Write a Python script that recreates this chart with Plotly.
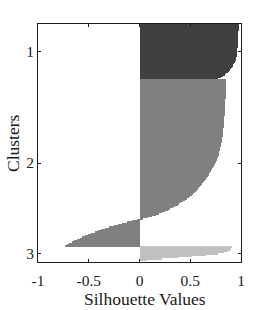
import plotly.graph_objects as go

cluster_labels = ["1", "2", "3"]
cluster_colors = ["#404040", "#808080", "#c0c0c0"]

sil_cluster1 = [0.978, 0.977, 0.977, 0.976, 0.976, 0.975, 0.975, 0.974, 0.974, 0.973,
                0.972, 0.972, 0.971, 0.970, 0.969, 0.968, 0.968, 0.967, 0.966, 0.965,
                0.964, 0.963, 0.962, 0.960, 0.958, 0.956, 0.954, 0.951, 0.948, 0.944,
                0.938, 0.931, 0.925, 0.918, 0.910, 0.901, 0.892, 0.882, 0.870, 0.857,
                0.842, 0.825, 0.805, 0.775]

sil_cluster2 = [0.856, 0.855, 0.855, 0.854, 0.854, 0.853, 0.853, 0.852, 0.852, 0.851,
                0.851, 0.850, 0.850, 0.849, 0.849, 0.848, 0.847, 0.847, 0.846, 0.845,
                0.845, 0.844, 0.843, 0.842, 0.842, 0.841, 0.840, 0.839, 0.838, 0.837,
                0.836, 0.835, 0.834, 0.833, 0.832, 0.831, 0.830, 0.829, 0.828, 0.827,
                0.826, 0.824, 0.823, 0.821, 0.819, 0.818, 0.816, 0.814, 0.812, 0.810,
                0.808, 0.806, 0.803, 0.800, 0.797, 0.794, 0.791, 0.788, 0.785, 0.782,
                0.779, 0.775, 0.770, 0.766, 0.761, 0.756, 0.750, 0.744, 0.738, 0.731,
                0.723, 0.716, 0.709, 0.702, 0.695, 0.688, 0.680, 0.672, 0.663, 0.653,
                0.643, 0.634, 0.625, 0.616, 0.607, 0.598, 0.588, 0.577, 0.566, 0.554,
                0.542, 0.530, 0.516, 0.501, 0.485, 0.468, 0.450, 0.431, 0.411, 0.390,
                0.375, 0.352, 0.328, 0.303, 0.277, 0.250, 0.222, 0.193, 0.162, 0.128,
                0.085, 0.035, -0.020, -0.070,
                -0.125, -0.170, -0.215, -0.255, -0.300, -0.340, -0.375, -0.410, -0.440, -0.475,
                -0.505, -0.535, -0.565, -0.590, -0.620, -0.645, -0.665, -0.690, -0.710, -0.730]

sil_cluster3 = [0.915, 0.905, 0.890, 0.870, 0.830, 0.770, 0.660, 0.520, 0.380, 0.220, 0.070]

x_tick_vals = [-1, -0.5, 0, 0.5, 1]
x_tick_text = ["-1", "-0.5", "0", "0.5", "1"]

clusters = [sil_cluster1, sil_cluster2, sil_cluster3]

fig = go.Figure()
start = 1
centers = []
for vals, color in zip(clusters, cluster_colors):
    ys = list(range(start, start + len(vals)))
    centers.append(start + (len(vals) - 1) / 2)
    fig.add_trace(go.Bar(x=vals, y=ys, orientation="h", width=1,
                         marker=dict(color=color, line=dict(width=0)),
                         showlegend=False, hoverinfo="skip"))
    start += len(vals)

total = start - 1
font_family = "Liberation Serif, Times New Roman, serif"
ink = "#1a1a1a"

fig.update_layout(
    width=266, height=310,
    margin=dict(l=38, r=25, t=24, b=48),
    paper_bgcolor="white", plot_bgcolor="white",
    barmode="overlay", bargap=0,
    font=dict(family=font_family, size=15, color=ink),
    xaxis=dict(range=[-1, 1], tickvals=x_tick_vals, ticktext=x_tick_text,
               ticks="inside", ticklen=3, tickwidth=1, tickcolor=ink,
               showline=True, linecolor=ink, linewidth=1, mirror="ticks",
               showgrid=False, zeroline=False, ticklabelstandoff=4,
               tickfont=dict(size=15.5, family=font_family, color=ink)),
    yaxis=dict(range=[total + 1.5, 0.5], tickvals=centers, ticktext=cluster_labels,
               ticks="inside", ticklen=3, tickwidth=1, tickcolor=ink,
               showline=True, linecolor=ink, linewidth=1, mirror="ticks",
               showgrid=False, zeroline=False,
               tickfont=dict(size=15.5, family=font_family, color=ink)),
    annotations=[
        dict(text="Silhouette Values", xref="paper", yref="paper",
             x=0.528, y=-0.156, xanchor="center", yanchor="middle", showarrow=False,
             font=dict(size=17.5, family=font_family, color=ink)),
        dict(text="Clusters", xref="paper", yref="paper", textangle=-90,
             x=-0.123, y=0.5, xanchor="center", yanchor="middle", showarrow=False,
             font=dict(size=17.5, family=font_family, color=ink)),
    ],
)

fig.write_html("out.html", config={"displayModeBar": False},
               post_script="document.body.style.margin='0px';document.body.style.overflow='hidden';")
